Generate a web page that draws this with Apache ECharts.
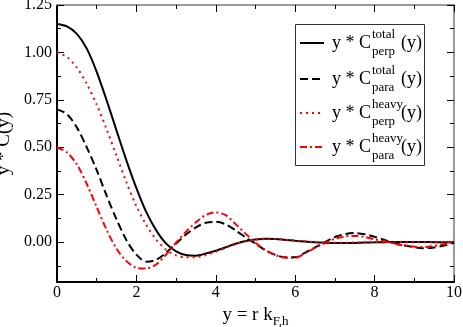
<!DOCTYPE html>
<html>
<head>
<meta charset="utf-8">
<script src="https://cdn.jsdelivr.net/npm/echarts@6/dist/echarts.min.js"></script>
<style>
html, body { margin: 0; padding: 0; background: #fff; }
#chart { width: 463px; height: 327px; }
</style>
</head>
<body>
<div id="chart"></div>
<script>
// x positions (y = r k_F,h)
const xs = [0, 0.25, 0.5, 0.75, 1, 1.25, 1.5, 1.75, 2, 2.25, 2.5, 2.75, 3, 3.25, 3.5, 3.75, 4, 4.25, 4.5, 4.75,
  5, 5.25, 5.5, 5.75, 6, 6.25, 6.5, 6.75, 7, 7.25, 7.5, 7.75, 8, 8.25, 8.5, 8.75, 9, 9.25, 9.5, 9.75, 10];

// values
const totalPerp = [1.15, 1.137, 1.098, 1.02, 0.898, 0.748, 0.588, 0.43, 0.285, 0.158, 0.062, -0.008, -0.048, -0.068, -0.071, -0.06, -0.045, -0.027, -0.008, 0.006,
  0.014, 0.018, 0.017, 0.012, 0.007, 0.003, -0.001, -0.004, -0.005, -0.005, -0.004, -0.002, -0.001, 0, 0.001, 0.001, 0.001, 0.001, 0, 0, 0];
const totalPara = [0.70, 0.675, 0.605, 0.50, 0.38, 0.245, 0.12, 0.01, -0.066, -0.103, -0.093, -0.055, -0.007, 0.04, 0.078, 0.102, 0.107, 0.094, 0.062, 0.025,
  -0.008, -0.043, -0.067, -0.08, -0.08, -0.055, -0.028, 0, 0.027, 0.042, 0.048, 0.042, 0.028, 0.012, -0.005, -0.017, -0.027, -0.032, -0.028, -0.018, -0.003];
const heavyPerp = [1.0, 0.976, 0.92, 0.835, 0.725, 0.595, 0.455, 0.315, 0.19, 0.09, 0.013, -0.04, -0.07, -0.08, -0.079, -0.068, -0.05, -0.03, -0.01, 0.005,
  0.014, 0.018, 0.017, 0.013, 0.008, 0.004, 0, -0.002, -0.003, -0.003, -0.002, -0.001, 0, 0, 0, 0, 0, 0, 0, 0, 0];
const heavyPara = [0.50, 0.473, 0.41, 0.307, 0.185, 0.065, -0.035, -0.1, -0.135, -0.139, -0.117, -0.065, -0.003, 0.055, 0.105, 0.143, 0.157, 0.142, 0.095, 0.045,
  -0.003, -0.042, -0.068, -0.082, -0.083, -0.058, -0.03, -0.005, 0.018, 0.03, 0.033, 0.028, 0.015, 0.005, -0.008, -0.018, -0.024, -0.026, -0.02, -0.01, 0];

// axis ticks
const yMajor = [0, 0.25, 0.5, 0.75, 1.0, 1.25];
const yMinor = [-0.125, 0.125, 0.375, 0.625, 0.875, 1.125];

const serif = '"Liberation Serif", "DejaVu Serif", serif';

function pairs(ys) {
  return xs.map((x, i) => [x, ys[i]]);
}

const chart = echarts.init(document.getElementById('chart'));

const baseX = {
  type: 'value', min: 0, max: 10, interval: 2,
  splitLine: { show: false },
  axisTick: { inside: true, length: 7, lineStyle: { color: '#000', width: 1 } },
  minorTick: { show: true, splitNumber: 2, length: 4, lineStyle: { color: '#000', width: 1 } }
};

function yAx(pos, ticks, len, showLine, showLabel) {
  return {
    type: 'value', position: pos, min: -0.21, max: 1.25,
    splitLine: { show: false },
    axisLine: { show: showLine, onZero: false, lineStyle: { color: pos == 'left' ? '#000' : '#999', width: 2 } },
    axisTick: { inside: true, length: len, customValues: ticks, lineStyle: { color: '#000', width: 1 } },
    axisLabel: {
      show: showLabel, customValues: ticks, margin: 5,
      fontFamily: serif, fontSize: 16, color: '#000',
      formatter: v => v.toFixed(2)
    }
  };
}

const rows = [
  { y: 43, sup: 'total', sub: 'perp', color: '#000', dash: null },
  { y: 79, sup: 'total', sub: 'para', color: '#000', dash: [8, 4] },
  { y: 113, sup: 'heavy', sub: 'perp', color: '#ff0000', dash: [2, 4] },
  { y: 147, sup: 'heavy', sub: 'para', color: '#ff0000', dash: [7, 3, 2, 3] }
];

const legendEls = [{
  type: 'rect', shape: { x: 295.5, y: 24.5, width: 129, height: 141 },
  style: { fill: '#fff', stroke: '#333', lineWidth: 1 }, z: 10
}];
rows.forEach(r => {
  legendEls.push({ type: 'line', shape: { x1: 300, y1: r.y, x2: 324, y2: r.y },
    style: { stroke: r.color, lineWidth: 2, lineDash: r.dash }, z: 11 });
  legendEls.push({ type: 'text', x: 332, y: r.y, z: 11,
    style: { text: 'y * C', font: '18px ' + serif, fill: '#000', verticalAlign: 'middle' } });
  legendEls.push({ type: 'text', x: 372, y: r.y - 8, z: 11,
    style: { text: r.sup, font: '13px ' + serif, fill: '#000', verticalAlign: 'middle' } });
  legendEls.push({ type: 'text', x: 372, y: r.y + 9, z: 11,
    style: { text: r.sub, font: '13px ' + serif, fill: '#000', verticalAlign: 'middle' } });
  legendEls.push({ type: 'text', x: 401, y: r.y, z: 11,
    style: { text: '(y)', font: '18px ' + serif, fill: '#000', verticalAlign: 'middle' } });
});

const option = {
  animation: false,
  backgroundColor: '#fff',
  grid: { left: 57, right: 9, top: 5, bottom: 45, containLabel: false, outerBoundsMode: 'none' },
  xAxis: [
    Object.assign({}, baseX, {
      position: 'bottom',
      axisLine: { onZero: false, lineStyle: { color: '#000', width: 2 } },
      axisLabel: { fontFamily: serif, fontSize: 16, color: '#000', margin: 3 },
      name: 'y = r k{sub|F,h}',
      nameLocation: 'middle', nameGap: 20,
      nameTextStyle: {
        fontFamily: serif, fontSize: 19, color: '#000',
        rich: { sub: { fontFamily: serif, fontSize: 13, color: '#000', padding: [12, 0, 0, 0] } }
      }
    }),
    Object.assign({}, baseX, {
      position: 'top',
      axisLine: { onZero: false, lineStyle: { color: '#999', width: 2 } },
      axisLabel: { show: false }
    })
  ],
  yAxis: [
    Object.assign(yAx('left', yMajor, 7, true, true), {
      name: 'y * C(y)', nameLocation: 'middle', nameGap: 38,
      nameTextStyle: { fontFamily: serif, fontSize: 19, color: '#000' }
    }),
    yAx('right', yMajor, 7, true, false),
    yAx('left', yMinor, 4, false, false),
    yAx('right', yMinor, 4, false, false)
  ],
  series: [
    { name: 'totalPerp', type: 'line', data: pairs(totalPerp), smooth: 0.3, symbol: 'none',
      lineStyle: { color: '#000', width: 2 } },
    { name: 'totalPara', type: 'line', data: pairs(totalPara), smooth: 0.3, symbol: 'none',
      lineStyle: { color: '#000', width: 2, type: [8, 4] } },
    { name: 'heavyPerp', type: 'line', data: pairs(heavyPerp), smooth: 0.3, symbol: 'none',
      lineStyle: { color: '#ff0000', width: 2, type: [2, 4] } },
    { name: 'heavyPara', type: 'line', data: pairs(heavyPara), smooth: 0.3, symbol: 'none',
      lineStyle: { color: '#ff0000', width: 2, type: [7, 3, 2, 3] } }
  ],
  graphic: legendEls
};

chart.setOption(option);
</script>
</body>
</html>
